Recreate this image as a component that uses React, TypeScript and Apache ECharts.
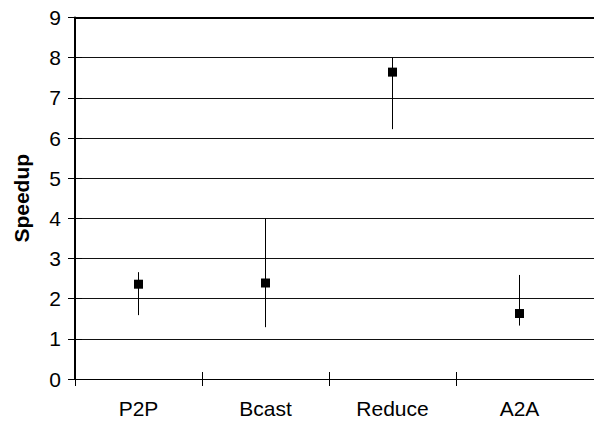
import React, { useEffect, useRef } from "react";
import * as echarts from "echarts";

const categories = ["P2P", "Bcast", "Reduce", "A2A"];
const speedup = [2.36, 2.39, 7.64, 1.63];
const errHigh = [2.66, 4.0, 8.0, 2.59];
const errLow = [1.59, 1.29, 6.22, 1.33];
const yTicks = [0, 9, 1]; // min, max, interval

const FONT = "'Liberation Sans', Arial, sans-serif";

export default function App() {
  const ref = useRef<HTMLDivElement>(null);
  useEffect(() => {
    if (!ref.current) return;
    const chart = echarts.init(ref.current, undefined, { renderer: "svg" });
    const boundaryTicks = categories.map((_, i) => i);
    const spanMax = 519 / 127;
    chart.setOption({
      animation: false,
      backgroundColor: "#fff",
      grid: [
        { left: 75, right: 11, top: 17.5, bottom: 44 },
        { left: 75, right: 0, top: 17.5, bottom: 44 },
      ],
      xAxis: [
        {
          type: "category",
          gridIndex: 0,
          data: categories,
          axisLine: { show: false },
          axisTick: { show: false },
          splitLine: { show: false },
          axisLabel: { color: "#000", fontFamily: FONT, fontSize: 21, margin: 19 },
        },
        {
          type: "value",
          gridIndex: 1,
          min: 0,
          max: spanMax,
          position: "bottom",
          axisLine: { show: true, lineStyle: { color: "#000", width: 1 } },
          axisTick: { show: true, customValues: boundaryTicks, length: 7, inside: false, lineStyle: { color: "#000", width: 1 } },
          axisLabel: { show: false },
          splitLine: { show: false },
        },
        {
          type: "value",
          gridIndex: 1,
          min: 0,
          max: spanMax,
          position: "bottom",
          axisLine: { show: false },
          axisTick: { show: true, customValues: boundaryTicks, length: 7, inside: true, lineStyle: { color: "#000", width: 1 } },
          axisLabel: { show: false },
          splitLine: { show: false },
        },
        {
          type: "value",
          gridIndex: 1,
          min: 0,
          max: spanMax,
          position: "top",
          axisLine: { show: true, lineStyle: { color: "#000", width: 2 } },
          axisTick: { show: false },
          axisLabel: { show: false },
          splitLine: { show: false },
        },
      ],
      yAxis: [
        {
          type: "value",
          gridIndex: 0,
          min: yTicks[0],
          max: yTicks[1],
          interval: yTicks[2],
          name: "Speedup",
          nameLocation: "middle",
          nameGap: 43,
          nameTextStyle: { color: "#000", fontFamily: FONT, fontSize: 21, fontWeight: "bold" },
          axisLine: { show: true, lineStyle: { color: "#000", width: 2 } },
          axisTick: { show: true, length: 7, inside: false, lineStyle: { color: "#000", width: 1 } },
          axisLabel: { color: "#000", fontFamily: FONT, fontSize: 21, margin: 14 },
          splitLine: { show: false },
        },
        {
          type: "value",
          gridIndex: 1,
          min: yTicks[0],
          max: yTicks[1],
          interval: yTicks[2],
          axisLine: { show: false },
          axisTick: { show: true, length: 7, inside: true, lineStyle: { color: "#000", width: 1 } },
          axisLabel: { show: false },
          splitLine: { show: true, lineStyle: { color: "#111", width: 1.2 } },
        },
      ],
      series: [
        {
          type: "custom",
          xAxisIndex: 0,
          yAxisIndex: 0,
          data: categories.map((_, i) => [i, errLow[i], errHigh[i]]),
          encode: { x: 0, y: [1, 2] },
          renderItem: (params: any, api: any) => {
            const lo = api.coord([api.value(0), api.value(1)]);
            const hi = api.coord([api.value(0), api.value(2)]);
            return {
              type: "line",
              shape: { x1: lo[0], y1: lo[1], x2: hi[0], y2: hi[1] },
              style: { stroke: "#000", lineWidth: 1 },
            };
          },
          z: 3,
        },
        {
          type: "scatter",
          xAxisIndex: 0,
          yAxisIndex: 0,
          data: speedup,
          symbol: "rect",
          symbolSize: 9,
          itemStyle: { color: "#000", opacity: 1 },
          z: 4,
        },
      ],
    });
    return () => chart.dispose();
  }, []);
  return (
    <div
      ref={ref}
      style={{ position: "fixed", left: 0, top: 0, width: 594, height: 423, background: "#fff" }}
    />
  );
}
